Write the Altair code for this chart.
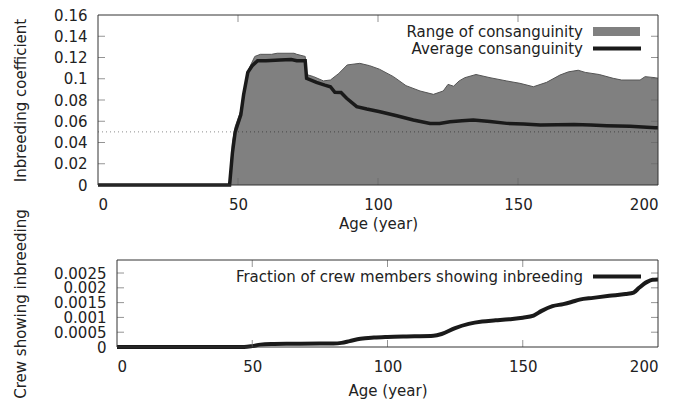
import altair as alt
import pandas as pd

# ---------------- data ----------------
range_age = [0, 47, 48, 49, 51, 53, 54, 56, 58, 62, 64, 70, 71, 74, 74.5, 77, 80.5, 83, 86, 89, 93.5,
             97, 100.5, 105.5, 110, 115, 119.8, 123.3, 125, 127, 129, 131, 135, 140, 146, 150.7, 155.5,
             160.2, 165, 168, 171.5, 174, 179, 184, 187, 193.6, 195.4, 199, 200]
range_max = [0, 0, 0.04, 0.055, 0.07, 0.1, 0.11, 0.121, 0.123, 0.123, 0.124, 0.124, 0.123, 0.121, 0.104,
             0.102, 0.098, 0.0988, 0.105, 0.113, 0.1145, 0.1123, 0.109, 0.102, 0.0935, 0.0885, 0.0853,
             0.0885, 0.0947, 0.093, 0.098, 0.101, 0.104, 0.101, 0.0979, 0.0957, 0.0925, 0.0966, 0.1035,
             0.1065, 0.108, 0.106, 0.104, 0.1004, 0.0988, 0.0988, 0.102, 0.101, 0.1005]

avg_age = [0, 47, 48, 49, 51, 52, 53.5, 55, 57, 60, 65, 69, 71, 74, 74.5, 78, 81, 83, 84.6, 86.8, 88.8,
           92.4, 96, 100.7, 106.7, 112.6, 118.6, 122, 125.7, 130, 134, 140, 146, 152, 158, 164, 170,
           176, 181.7, 190, 199, 200]
avg_val = [0, 0, 0.03, 0.05, 0.066, 0.085, 0.106, 0.112, 0.117, 0.117, 0.1176, 0.118, 0.117, 0.117, 0.1004,
           0.0966, 0.094, 0.0925, 0.0872, 0.087, 0.0816, 0.0737, 0.0715, 0.069, 0.0652, 0.0612, 0.058,
           0.058, 0.0596, 0.0605, 0.0612, 0.0598, 0.058, 0.0575, 0.0565, 0.0568, 0.057, 0.0565, 0.0558,
           0.0552, 0.054, 0.054]

frac_age = [0, 47, 50, 53, 57, 65, 75, 80, 83, 86, 90, 95, 100, 110, 117, 120, 125, 130, 135, 140, 145,
            150, 154, 157, 161, 165, 168, 171, 176, 182, 188, 191, 193, 196, 198, 200]
frac_val = [0, 0, 0.00003, 0.00008, 0.0001, 0.00011, 0.00012, 0.00012, 0.00014, 0.0002, 0.00028, 0.00032,
            0.00034, 0.00036, 0.00038, 0.00044, 0.00064, 0.00078, 0.00086, 0.0009, 0.00094, 0.00099,
            0.00106, 0.00122, 0.00138, 0.00145, 0.00152, 0.0016, 0.00166, 0.00173, 0.00179, 0.00184,
            0.002, 0.0022, 0.00227, 0.00228]

x_ticks = [0, 50, 100, 150, 200]
top_y_ticks = [0, 0.02, 0.04, 0.06, 0.08, 0.1, 0.12, 0.14, 0.16]
bot_y_ticks = [0, 0.0005, 0.001, 0.0015, 0.002, 0.0025]
threshold = 0.05

top_ytitle = "Inbreeding coefficient"
bot_ytitle = "Crew showing inbreeding"
xtitle = "Age (year)"
legend_range = "Range of consanguinity"
legend_avg = "Average consanguinity"
legend_frac = "Fraction of crew members showing inbreeding"

FONT = "DejaVu Sans"
TXT = "#222222"
TICKC = "#666666"
FRAME = "#333333"

# ---------------- helpers ----------------
def make_enc(xdom, xrange, ydom, yvals, ytitle, yoffset, xtitlepad):
    xs = dict(domain=xdom, nice=False, zero=False)
    if xrange is not None:
        xs["range"] = xrange
    def X(field="age"):
        return alt.X(f"{field}:Q", scale=alt.Scale(**xs),
                     axis=alt.Axis(values=x_ticks, title=xtitle, format="d", labelOverlap=False,
                                   titlePadding=xtitlepad))
    def Y(field="value"):
        return alt.Y(f"{field}:Q", scale=alt.Scale(domain=ydom, nice=False),
                     axis=alt.Axis(values=yvals, title=ytitle, format="~g", offset=yoffset,
                                   labelOverlap=False))
    return X, Y


def frame_and_ticks(X, Y, xdom, ydom, yvals):
    inner_x = [v for v in x_ticks if v not in (xdom[0], xdom[1])]
    inner_y = [v for v in yvals if v != 0 and v < ydom[1]]
    layers = []
    for yv, off in ((ydom[0], -3.5), (ydom[1], 3.5)):
        d = pd.DataFrame({"age": inner_x, "value": [yv] * len(inner_x)})
        layers.append(alt.Chart(d).mark_tick(orient="vertical", size=7, thickness=1, color=TICKC,
                                             yOffset=off).encode(x=X(), y=Y()))
    for xv, off in ((xdom[0], 3.5), (xdom[1], -3.5)):
        d = pd.DataFrame({"age": [xv] * len(inner_y), "value": inner_y})
        layers.append(alt.Chart(d).mark_tick(orient="horizontal", size=7, thickness=1, color=TICKC,
                                             xOffset=off).encode(x=X(), y=Y()))
    fr = pd.DataFrame({"age": [xdom[0]], "age2": [xdom[1]], "value": [ydom[0]], "value2": [ydom[1]]})
    layers.append(alt.Chart(fr).mark_rect(fillOpacity=0, stroke=FRAME, strokeWidth=1).encode(
        x=X(), x2="age2:Q", y=Y(), y2="value2:Q"))
    return layers


def legend_text(label, x, y):
    return alt.Chart(pd.DataFrame({"label": [label]})).mark_text(
        align="right", baseline="middle", font=FONT, fontSize=15, color=TXT
    ).encode(x=alt.value(x), y=alt.value(y), text="label:N")

# ---------------- top panel ----------------
TW, TH = 560, 170
TX = [0, 200]
TY = [0, 0.16]
Xt, Yt = make_enc(TX, None, TY, top_y_ticks, top_ytitle, 0, 4)
rng = pd.DataFrame({"age": range_age, "value": range_max})
avg = pd.DataFrame({"age": avg_age, "value": avg_val})
thr = pd.DataFrame({"age": [0], "age2": [200], "value": [threshold]})

area = alt.Chart(rng).mark_area(color="#808080", opacity=1).encode(x=Xt(), y=Yt())
edge = alt.Chart(rng).mark_line(color="#555555", strokeWidth=1).encode(x=Xt(), y=Yt())
dots = alt.Chart(thr).mark_rule(color="#000000", opacity=0.45, strokeWidth=1, strokeDash=[1, 3]).encode(
    x=Xt(), x2="age2:Q", y=Yt())
avgline = alt.Chart(avg).mark_line(color="#1a1a1a", strokeWidth=3.5).encode(x=Xt(), y=Yt())

swatch = alt.Chart(pd.DataFrame({"k": [0]})).mark_rect(color="#808080").encode(
    x=alt.value(495), x2=alt.value(542), y=alt.value(12), y2=alt.value(21))
swline = alt.Chart(pd.DataFrame({"k": [0]})).mark_rule(color="#1a1a1a", strokeWidth=4).encode(
    x=alt.value(495), x2=alt.value(543), y=alt.value(33.5))

top = alt.layer(
    area, edge, dots, avgline, *frame_and_ticks(Xt, Yt, TX, TY, top_y_ticks),
    legend_text(legend_range, 485, 16.5), legend_text(legend_avg, 485, 33.5), swatch, swline
).properties(width=TW, height=TH)

# ---------------- bottom panel ----------------
SHIFT = 19
BX = [0, 200]
BY = [0, 0.00294]
Xb, Yb = make_enc(BX, [SHIFT, TW], BY, bot_y_ticks, bot_ytitle, -SHIFT, 9)
frac = pd.DataFrame({"age": frac_age, "value": frac_val})
fracline = alt.Chart(frac).mark_line(color="#1a1a1a", strokeWidth=4, interpolate="monotone").encode(
    x=Xb(), y=Yb())
swline2 = alt.Chart(pd.DataFrame({"k": [0]})).mark_rule(color="#1a1a1a", strokeWidth=4).encode(
    x=alt.value(495), x2=alt.value(543), y=alt.value(16.5))

bottom = alt.layer(
    fracline, *frame_and_ticks(Xb, Yb, BX, BY, bot_y_ticks),
    legend_text(legend_frac, 485, 16.5), swline2
).properties(width=TW, height=87)

chart = alt.vconcat(top, bottom, spacing=-23).properties(
    padding={"left": 5, "top": 0, "right": 5, "bottom": 0}
).configure_view(
    stroke=None
).configure_axis(
    domain=False, ticks=False, grid=False,
    labelFont=FONT, labelFontSize=15, labelColor=TXT,
    titleFont=FONT, titleFontSize=15, titleColor=TXT, titleFontWeight="normal",
).configure_axisX(labelPadding=12).configure_axisY(labelPadding=11, titlePadding=25)

chart.save("out.html", embed_options={"renderer": "svg", "actions": False})
